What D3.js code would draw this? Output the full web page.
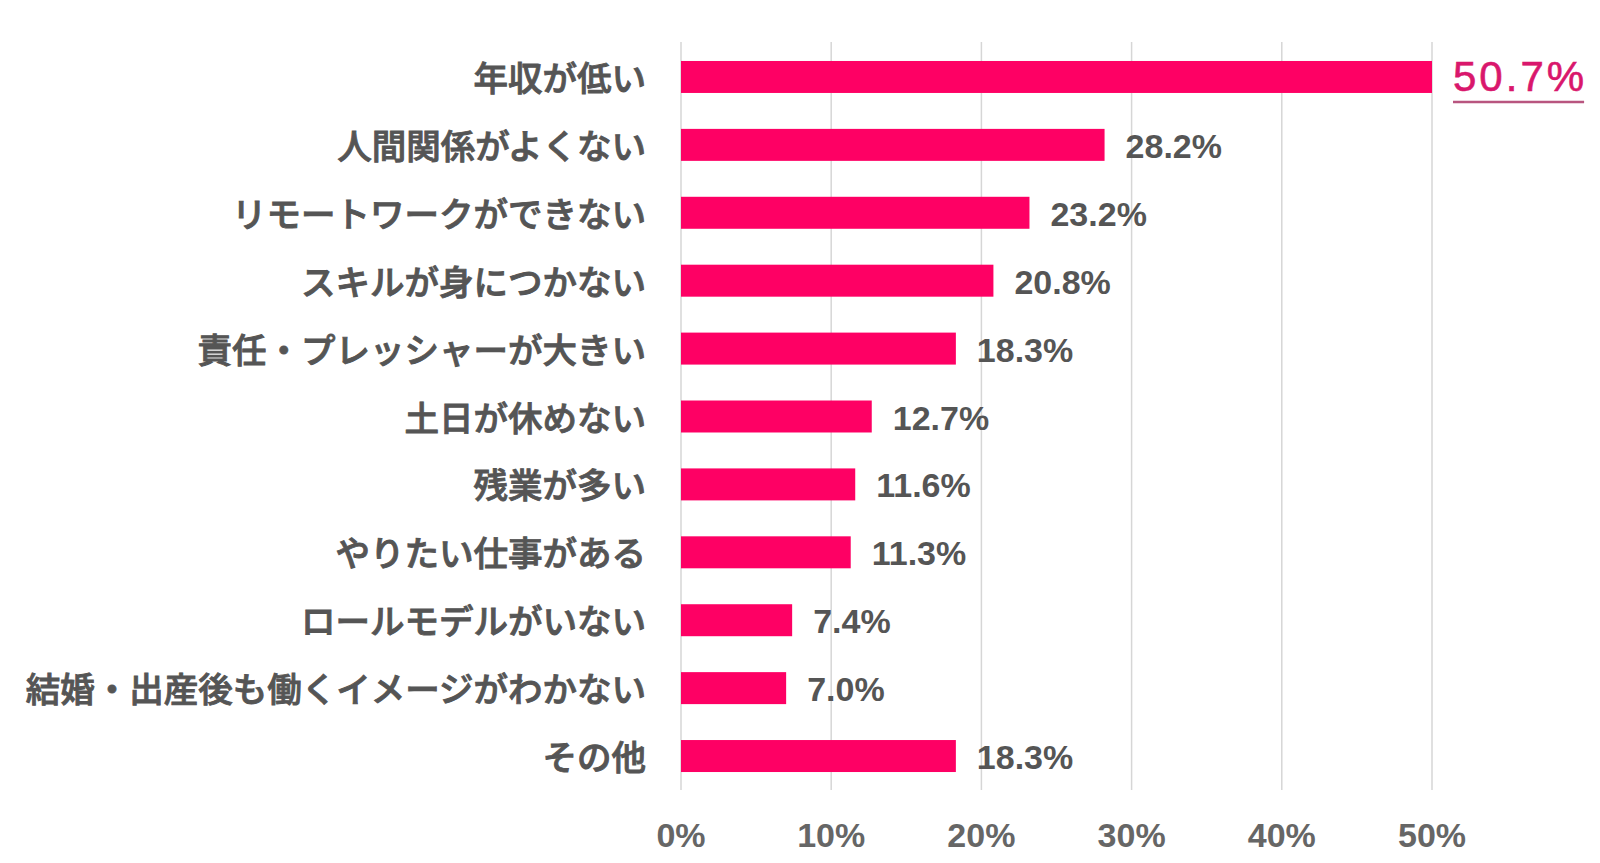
<!DOCTYPE html>
<html><head><meta charset="utf-8">
<script src="https://cdn.jsdelivr.net/npm/d3@7"></script>
<style>body{margin:0;background:#fff;}svg{display:block;}</style>
</head><body>
<svg id="c" width="1600" height="863"></svg>
<script>
const categories = ["年収が低い","人間関係がよくない","リモートワークができない","スキルが身につかない","責任・プレッシャーが大きい","土日が休めない","残業が多い","やりたい仕事がある","ロールモデルがいない","結婚・出産後も働くイメージがわかない","その他"];
const values = [50.7,28.2,23.2,20.8,18.3,12.7,11.6,11.3,7.4,7.0,18.3];
const tickValues = [0,10,20,30,40,50];
const tickLabels = ["0%","10%","20%","30%","40%","50%"];

const svg = d3.select("#c");
const x = d3.scaleLinear().domain([0,50]).range([681,1432]).clamp(true);
const y = d3.scaleBand().domain(categories).range([44,789]).paddingInner(0.529).paddingOuter(0.25);

// gridlines
svg.append("g").selectAll("line").data(tickValues).join("line")
  .attr("x1",d=>x(d)).attr("x2",d=>x(d)).attr("y1",42).attr("y2",790)
  .attr("stroke","#d6d6d6").attr("stroke-width",1.5);

// axis labels
svg.append("g").selectAll("text").data(tickValues).join("text")
  .attr("x",d=>x(d)).attr("y",847).attr("text-anchor","middle")
  .attr("font-family","Liberation Sans, Arial, sans-serif").attr("font-weight","bold")
  .attr("font-size",34).attr("fill","#666")
  .text((d,i)=>tickLabels[i]);

// bars
svg.append("g").selectAll("rect").data(values).join("rect")
  .attr("x",x(0)).attr("y",(d,i)=>y(categories[i]))
  .attr("width",d=>x(d)-x(0)).attr("height",y.bandwidth())
  .attr("fill","#fe0064");

// category labels
svg.append("g").selectAll("text").data(categories).join("text")
  .attr("x",646).attr("y",d=>y(d)+y.bandwidth()/2-1)
  .attr("text-anchor","end").attr("dominant-baseline","central")
  .attr("font-family","Noto Sans CJK JP, sans-serif").attr("font-weight","500")
  .attr("font-size",34.5).attr("fill","#555")
  .attr("stroke","#555").attr("stroke-width",0.9)
  .text(d=>d);

// value labels
const vl = svg.append("g");
values.forEach((v,i)=>{
  const cy = y(categories[i]) + y.bandwidth()/2;
  if(i===0){
    const t = vl.append("text").attr("x",x(v)+21).attr("y",cy+14)
      .attr("font-family","Liberation Sans, Arial, sans-serif")
      .attr("font-size",42).attr("fill","#d9176c").attr("letter-spacing",3)
      .attr("stroke","#d9176c").attr("stroke-width",0.6)
      .text(v.toFixed(1)+"%");
    const bb = t.node().getBBox();
    vl.append("line").attr("x1",bb.x).attr("x2",bb.x+bb.width-3)
      .attr("y1",cy+25).attr("y2",cy+25).attr("stroke","#b8557f").attr("stroke-width",2.5);
  } else {
    vl.append("text").attr("x",x(v)+21).attr("y",cy+13)
      .attr("font-family","Liberation Sans, Arial, sans-serif").attr("font-weight","bold")
      .attr("font-size",34).attr("fill","#555")
      .text(v.toFixed(1)+"%");
  }
});
</script>
</body></html>
